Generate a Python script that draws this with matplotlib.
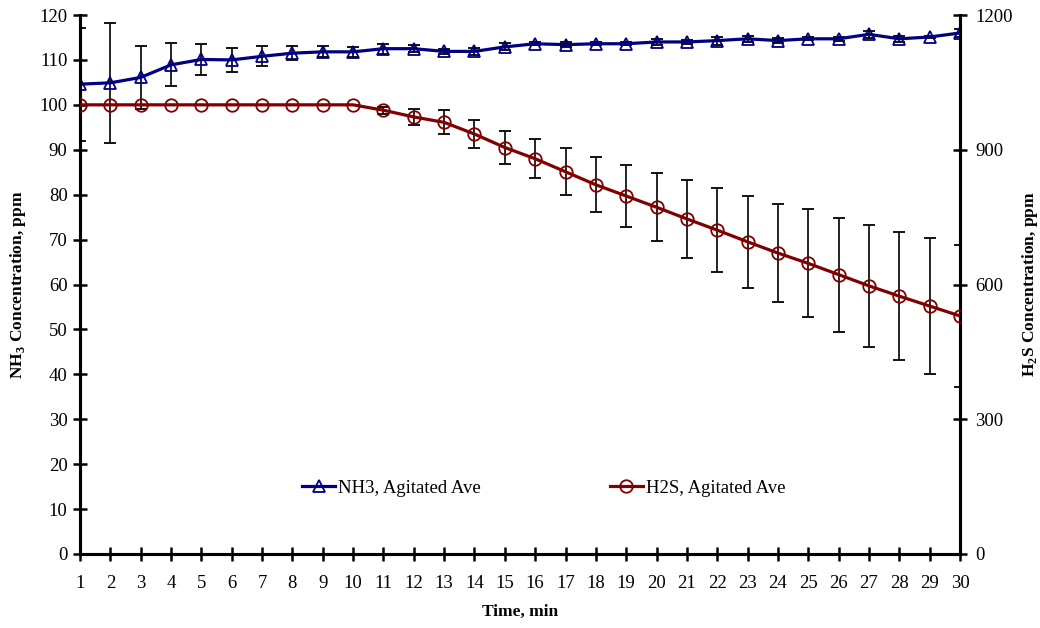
import matplotlib
matplotlib.use("Agg")
import matplotlib.pyplot as plt
from matplotlib.ticker import MultipleLocator

plt.rcParams['font.family'] = ['Liberation Serif', 'DejaVu Serif']
plt.rcParams['mathtext.fontset'] = 'custom'
plt.rcParams['mathtext.rm'] = 'Liberation Serif'
plt.rcParams['mathtext.bf'] = 'Liberation Serif:bold'

time_min = list(range(1, 31))

nh3_ave = [104.6, 104.9, 106.1, 108.9, 110.1, 110.0, 110.8, 111.5, 111.8, 111.8,
           112.5, 112.5, 111.9, 111.9, 112.9, 113.6, 113.4, 113.6, 113.6, 114.0,
           114.0, 114.3, 114.7, 114.3, 114.7, 114.7, 115.7, 114.7, 115.1, 116.0]
nh3_err = [12.6, 13.3, 7.0, 4.8, 3.4, 2.7, 2.2, 1.6, 1.2, 1.1,
           1.1, 0.8, 0.5, 0.7, 0.8, 0.3, 0.6, 0.3, 0.3, 0.6,
           0.5, 0.9, 0.7, 0.5, 0.3, 0.5, 0.8, 0.6, 0.3, 0.8]

h2s_ave = [1000, 1000, 1000, 1000, 1000, 1000, 1000, 1000, 1000, 1000,
           988, 973, 961, 935, 905, 880, 851, 822, 797, 772,
           746, 721, 695, 670, 647, 622, 597, 574, 552, 530]
h2s_err = [0, 0, 0, 0, 0, 0, 0, 0, 0, 0,
           8, 18, 27, 32, 37, 43, 52, 61, 68, 76,
           86, 93, 102, 110, 120, 127, 136, 143, 152, 158]

fig = plt.figure(figsize=(10.4, 6.28), dpi=100)
ax1 = fig.add_axes([80 / 1040, 1 - 554 / 628, 880 / 1040, 539 / 628])
ax2 = ax1.twinx()

navy = '#000080'
maroon = '#800000'

nh3 = ax1.errorbar(time_min, nh3_ave, yerr=nh3_err, color=navy, lw=2.3,
                   marker='^', ms=9, mfc='none', mec=navy, mew=1.3,
                   ecolor='black', elinewidth=1.2, capsize=4, capthick=1.2,
                   zorder=3)
h2s = ax2.errorbar(time_min, h2s_ave, yerr=h2s_err, color=maroon, lw=2.3,
                   marker='o', ms=9, mfc='none', mec=maroon, mew=1.3,
                   ecolor='black', elinewidth=1.2, capsize=4, capthick=1.2,
                   zorder=3)

ax1.set_xlim(1, 30)
ax1.set_ylim(0, 120)
ax2.set_ylim(0, 1200)
ax1.xaxis.set_major_locator(MultipleLocator(1))
ax1.yaxis.set_major_locator(MultipleLocator(10))
ax2.yaxis.set_major_locator(MultipleLocator(300))

for ax in (ax1, ax2):
    ax.spines['top'].set_visible(False)
    for s in ('left', 'right', 'bottom'):
        ax.spines[s].set_linewidth(2.2)
    ax.tick_params(direction='inout', length=10, width=1.8, labelsize=13.5)
ax1.tick_params(axis='x', pad=10)
ax1.tick_params(axis='y', pad=4)
ax2.tick_params(axis='y', pad=6)

ax1.set_xlabel('Time, min', fontsize=12.5, fontweight='bold')
ax1.xaxis.set_label_coords(0.5, -(612 - 554) / 539)
ax1.xaxis.label.set_va('center')

ax1.set_ylabel(r'NH$_\mathbf{3}$ Concentration, ppm', fontsize=12.5,
               fontweight='bold', va='center', ha='center')
ax1.yaxis.set_label_coords(-(80 - 18) / 880, 0.5)
ax2.set_ylabel(r'H$_\mathbf{2}$S Concentration, ppm', fontsize=12.5,
               fontweight='bold', rotation=90, va='center', ha='center')
ax2.yaxis.set_label_coords(1 + (1030 - 960) / 880, 0.5)

leg = ax2.legend([nh3.lines[0], h2s.lines[0]],
                 ['NH3, Agitated Ave', 'H2S, Agitated Ave'],
                 loc='center', bbox_to_anchor=(0.527, 0.122),
                 ncol=2, frameon=False, fontsize=13.5, columnspacing=6.9,
                 handlelength=1.75, handletextpad=0.15)

fig.savefig('out.png', dpi=100)
